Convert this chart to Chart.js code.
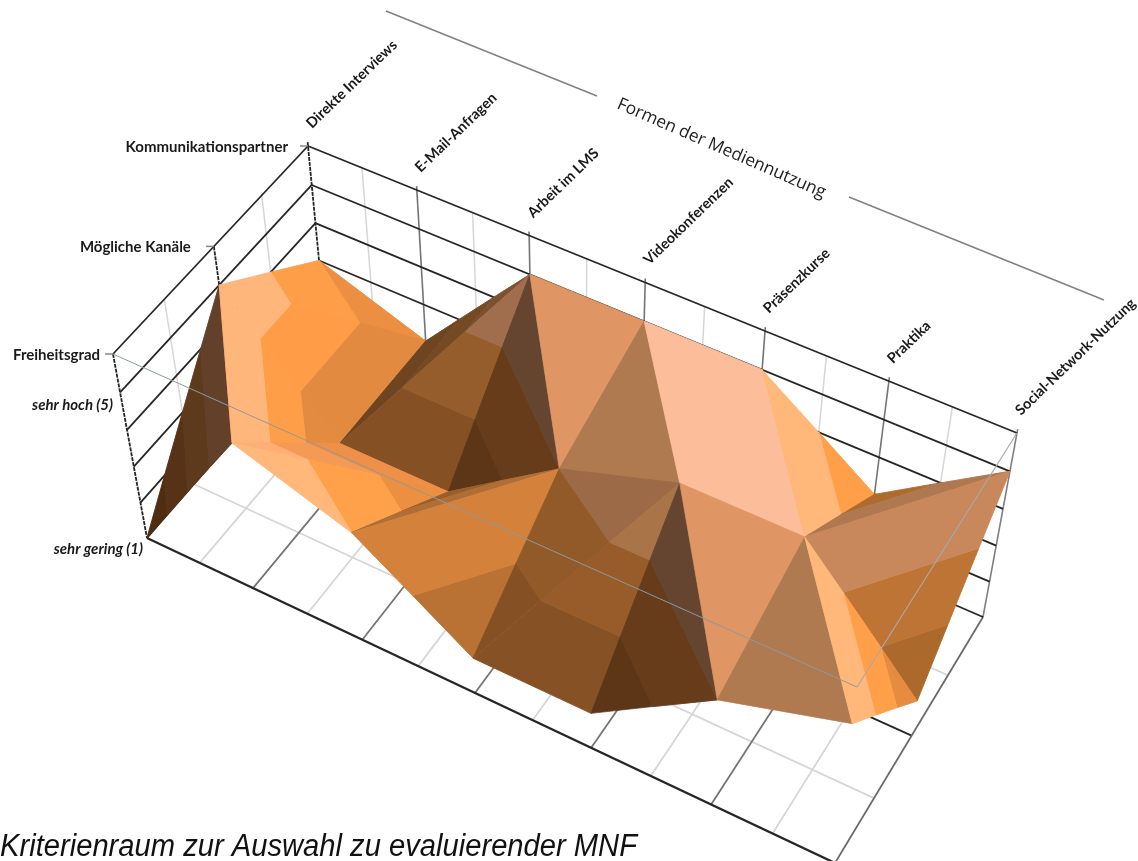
<!DOCTYPE html>
<html lang="de">
<head>
<meta charset="utf-8">
<title>Kriterienraum</title>
<script src="https://cdn.jsdelivr.net/npm/chart.js@4/dist/chart.umd.min.js"></script>
<style>
  html, body { margin: 0; padding: 0; background: #fff; overflow: hidden; }
  canvas { display: block; }
</style>
</head>
<body>
<canvas id="surface" width="1138" height="861"></canvas>
<script>
// categories and series, values on the scale 1 (sehr gering) .. 5 (sehr hoch)
const mediaForms = ['Direkte Interviews', 'E-Mail-Anfragen', 'Arbeit im LMS', 'Videokonferenzen', 'Präsenzkurse', 'Praktika', 'Social-Network-Nutzung'];
const criteria = ['Freiheitsgrad', 'Mögliche Kanäle', 'Kommunikationspartner'];
const freiheitsgrad = [1, 5, 4, 2, 2, 4, 5];
const moeglicheKanaele = [5, 2, 2, 4, 5, 5, 2];
const kommunikationspartner = [3, 2, 5, 5, 5, 3, 5];
const valueRows = [freiheitsgrad, moeglicheKanaele, kommunikationspartner];
const bandLevels = [1, 2, 3, 4];
const axisTitle = 'Formen der Mediennutzung';
const caption = 'Kriterienraum zur Auswahl zu evaluierender MNF';

// box of the 3D view on the page
const TOP_QUAD = [[113, 354], [857, 687], [1017, 433], [308, 146]];
const FLOOR_QUAD = [[147, 538], [835, 863], [983, 617], [326, 333]];

function quadMap(q) {
  const [[x0, y0], [x1, y1], [x2, y2], [x3, y3]] = q;
  const dx1 = x1 - x2, dx2 = x3 - x2, sx = x0 - x1 + x2 - x3;
  const dy1 = y1 - y2, dy2 = y3 - y2, sy = y0 - y1 + y2 - y3;
  const den = dx1 * dy2 - dx2 * dy1;
  const g = (sx * dy2 - dx2 * sy) / den, h = (dx1 * sy - sx * dy1) / den;
  const a = x1 - x0 + g * x1, b = x3 - x0 + h * x3;
  const d = y1 - y0 + g * y1, e = y3 - y0 + h * y3;
  return (u, v) => {
    const w = g * u + h * v + 1;
    return [(a * u + b * v + x0) / w, (d * u + e * v + y0) / w];
  };
}
const topMap = quadMap(TOP_QUAD), floorMap = quadMap(FLOOR_QUAD);

// c = column 0..6, r = row 0..2, z = 1..6
function project(c, r, z) {
  const t = (6 - z) / 5;
  const s = t / (t + (1 - t) * 0.95);
  const p = topMap(c / 6, r / 2), q = floorMap(c / 6, r / 2);
  return { x: p[0] + (q[0] - p[0]) * s, y: p[1] + (q[1] - p[1]) * s };
}

// triangles of the surface, back to front, with the shade per value band
const facets = [
  { v: [[0,1],[0,2],[1,2]], shade: { 2:'#ec8f42', 3:'#ff9e48', 4:'#ffb67a' } },
  { v: [[0,1],[1,2],[1,1]], shade: { 2:'#e28a40', 3:'#ff9c48', 4:'#ffb67a' } },
  { v: [[1,1],[1,2],[2,2]], shade: { 2:'#6e4520', 3:'#744a24', 4:'#7c5030' } },
  { v: [[1,1],[2,1],[2,2]], shade: { 2:'#855024', 3:'#965d2c', 4:'#a06e4c' } },
  { v: [[2,1],[2,2],[3,1]], shade: { 2:'#5c3617', 3:'#663c1a', 4:'#654530' } },
  { v: [[2,2],[3,2],[3,1]], shade: { 4:'#df9664' } },
  { v: [[3,2],[3,1],[4,1]], shade: { 4:'#b07a50' } },
  { v: [[3,2],[4,2],[4,1]], shade: { 4:'#fcbd9a' } },
  { v: [[4,2],[4,1],[5,1]], shade: { 4:'#fcbd9a' } },
  { v: [[4,2],[5,1],[5,2]], shade: { 3:'#ff9f4a', 4:'#ffb87a' } },
  { v: [[5,1],[5,2],[6,2]], shade: { 3:'#af6b2e', 4:'#b07850' } },
  { v: [[5,1],[6,2],[6,1]], shade: { 2:'#ab692c', 3:'#be7434', 4:'#c8885c' } },
  { v: [[0,0],[0,1],[1,0]], shade: { 1:'#4f2d12', 2:'#573216', 3:'#5e3a1c', 4:'#624029' } },
  { v: [[0,1],[1,0],[1,1]], shade: { 2:'#e38b40', 3:'#ff9e48', 4:'#ffb67a' } },
  { v: [[1,0],[2,1],[1,1]], shade: { 2:'#ee9048', 3:'#f59a55', 4:'#ffae74' } },
  { v: [[1,0],[2,0],[2,1]], shade: { 2:'#ec8f40', 3:'#ffa04a', 4:'#ffb87a' } },
  { v: [[2,0],[2,1],[3,1]], shade: { 2:'#9a5e2c', 3:'#b06e36' } },
  { v: [[2,0],[3,0],[3,1]], shade: { 2:'#ba7234', 3:'#d4813c' } },
  { v: [[3,0],[3,1],[4,1]], shade: { 2:'#855024', 3:'#925a28', 4:'#9d6a48' } },
  { v: [[3,0],[4,0],[4,1]], shade: { 2:'#875126', 3:'#985c2a', 4:'#a87448' } },
  { v: [[4,0],[4,1],[5,0]], shade: { 2:'#5c3617', 3:'#663c1a', 4:'#654530' } },
  { v: [[4,1],[5,1],[5,0]], shade: { 4:'#df9664' } },
  { v: [[5,0],[5,1],[6,0]], shade: { 4:'#b07a50' } },
  { v: [[5,1],[6,0],[6,1]], shade: { 2:'#e68c40', 3:'#ff9f4a', 4:'#ffb87a' } }
];

// cut a triangle to one value band
function clipBand(poly, lo, hi) {
  const cut = (pts, keep, level) => {
    const out = [];
    pts.forEach((p, i) => {
      const q = pts[(i + 1) % pts.length];
      if (keep(p[2])) out.push(p);
      if (keep(p[2]) !== keep(q[2])) {
        const k = (level - p[2]) / (q[2] - p[2]);
        out.push([p[0] + (q[0] - p[0]) * k, p[1] + (q[1] - p[1]) * k, level]);
      }
    });
    return out;
  };
  return cut(cut(poly, z => z >= lo, lo), z => z <= hi, hi);
}

const datasets = [];
function addLine(from, to, color, width, dash) {
  datasets.push({
    data: [project(...from), project(...to)],
    borderColor: color, borderWidth: width, borderDash: dash || [],
    pointRadius: 0, showLine: true, clip: false
  });
}

const BLACK = '#262626', DARK = '#747474', LIGHT = '#d6d6d6';

// floor
[0.5, 1.5].forEach(r => addLine([0, r, 1], [6, r, 1], LIGHT, 1.8));
for (let c = 0.5; c < 6; c += 1) addLine([c, 0, 1], [c, 2, 1], LIGHT, 1.8);
for (let c = 1; c < 6; c += 1) addLine([c, 0, 1], [c, 2, 1], DARK, 1.8);
addLine([0, 1, 1], [6, 1, 1], BLACK, 1.8);
addLine([6, 0, 1], [6, 2, 1], '#6a6a6a', 1.8);
addLine([0, 0, 1], [6, 0, 1], BLACK, 2.3);

// back wall
for (let c = 0.5; c < 6; c += 1) addLine([c, 2, 6], [c, 2, 1], LIGHT, 1.5);
for (let c = 1; c < 6; c += 1) addLine([c, 2, 6.1], [c, 2, 1], DARK, 1.6);
addLine([6, 2, 6.1], [6, 2, 1], '#808080', 1.6);
for (let z = 1; z <= 6; z++) addLine([0, 2, z], [6, 2, z], BLACK, 1.8);

// left wall
[0.5, 1.5].forEach(r => addLine([0, r, 6], [0, r, 1], LIGHT, 1.5));
addLine([0, 1, 6], [0, 1, 1], BLACK, 1.8, [4, 1]);
addLine([0, 2, 6.1], [0, 2, 1], BLACK, 1.8, [4, 1]);
addLine([0, 0, 6], [0, 0, 1], BLACK, 1.8, [4, 1]);
for (let z = 1; z <= 6; z++) addLine([0, 0, z], [0, 2, z], BLACK, 1.8);

// surface
facets.forEach(f => {
  const tri = f.v.map(([c, r]) => [c, r, valueRows[r][c]]);
  bandLevels.forEach(lo => {
    const color = f.shade[lo];
    if (!color) return;
    const poly = clipBand(tri, lo, lo + 1);
    if (poly.length < 3) return;
    datasets.push({
      data: poly.map(p => project(p[0], p[1], p[2])),
      facetColor: color,
      borderColor: color, borderWidth: 0.7,
      pointRadius: 0, showLine: true, clip: false
    });
  });
});

// outline of the top of the box, lies over the surface
addLine([0, 0, 6], [6, 0, 6], '#8c9a9e', 1);
addLine([6, 0, 6], [6, 2, 6], '#a8a8a8', 1.2);

// chart.js paints the first dataset last
datasets.forEach((d, i) => { d.order = datasets.length - i; });

const facetFill = {
  id: 'facetFill',
  beforeDatasetDraw(chart, args) {
    const ds = chart.data.datasets[args.index];
    if (!ds.facetColor) return;
    const ctx = chart.ctx;
    ctx.save();
    ctx.beginPath();
    args.meta.data.forEach((pt, i) => i ? ctx.lineTo(pt.x, pt.y) : ctx.moveTo(pt.x, pt.y));
    ctx.closePath();
    ctx.fillStyle = ds.facetColor;
    ctx.strokeStyle = ds.facetColor;
    ctx.lineWidth = 0.7;
    ctx.fill();
    ctx.stroke();
    ctx.restore();
  }
};

function rotatedText(ctx, text, x, y, deg, font, color) {
  ctx.save();
  ctx.translate(x, y);
  ctx.rotate(deg * Math.PI / 180);
  ctx.font = font;
  ctx.fillStyle = color;
  ctx.textAlign = 'left';
  ctx.textBaseline = 'alphabetic';
  ctx.fillText(text, 0, 0);
  ctx.restore();
}

const criteriaGap = [13, 23, 20];

const axisLabels = {
  id: 'axisLabels',
  afterDraw(chart) {
    const ctx = chart.ctx;
    const catFont = 'bold 14.5px Lato';
    mediaForms.forEach((name, c) => {
      const p = project(c, 2, 6);
      rotatedText(ctx, name, p.x + 4, p.y - 17, -44, catFont, '#1a1a1a');
    });
    ctx.textBaseline = 'middle';
    ctx.textAlign = 'right';
    ctx.fillStyle = '#1a1a1a';
    ctx.font = 'bold 15px Lato';
    criteria.forEach((name, r) => {
      const p = project(0, r, 6);
      ctx.fillText(name, p.x - criteriaGap[r], p.y + 1);
      ctx.strokeStyle = '#888';
      ctx.lineWidth = 1.5;
      ctx.beginPath();
      ctx.moveTo(p.x - 8, p.y);
      ctx.lineTo(p.x, p.y);
      ctx.stroke();
    });
    ctx.font = 'italic bold 15px Lato';
    ctx.fillText('sehr hoch (5)', 113, 405);
    ctx.fillText('sehr gering (1)', 143, 549);

    rotatedText(ctx, axisTitle, 616, 108, 23.5, '17.3px "Open Sans"', '#222');
    ctx.strokeStyle = '#808080';
    ctx.lineWidth = 1.5;
    ctx.beginPath();
    ctx.moveTo(386, 11); ctx.lineTo(597, 96);
    ctx.moveTo(849, 197); ctx.lineTo(1104, 300);
    ctx.stroke();

    // caption in a condensed look, fitted to its width
    ctx.save();
    ctx.textAlign = 'left';
    ctx.textBaseline = 'alphabetic';
    ctx.font = 'italic 31px "Liberation Sans"';
    ctx.fillStyle = '#111';
    ctx.translate(0, 856);
    ctx.scale(637 / ctx.measureText(caption).width, 1);
    ctx.fillText(caption, 0, 0);
    ctx.restore();
  }
};

new Chart(document.getElementById('surface'), {
  type: 'scatter',
  data: { datasets },
  plugins: [facetFill, axisLabels],
  options: {
    responsive: false,
    animation: false,
    devicePixelRatio: 1,
    layout: { padding: 0 },
    elements: { line: { tension: 0 } },
    events: [],
    plugins: { legend: { display: false }, tooltip: { enabled: false } },
    scales: {
      x: { type: 'linear', min: 0, max: 1138, display: false },
      y: { type: 'linear', min: 0, max: 861, reverse: true, display: false }
    }
  }
});
</script>
</body>
</html>
